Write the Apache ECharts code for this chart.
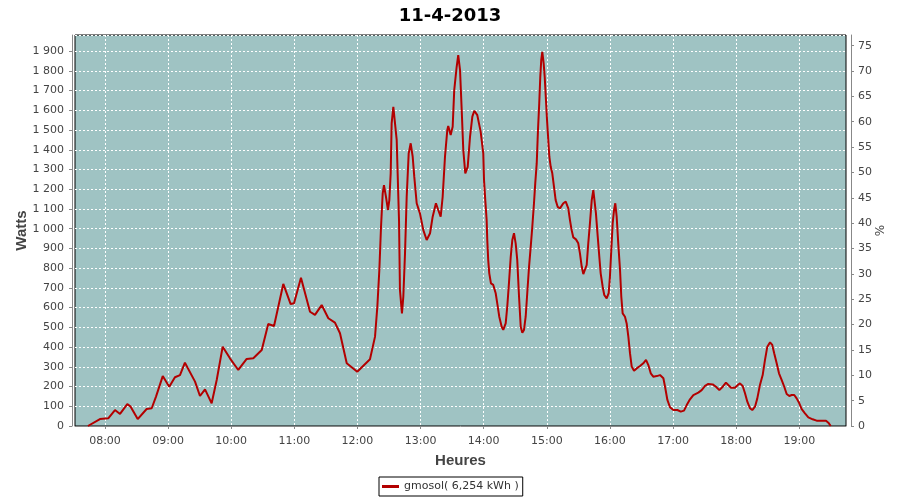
<!DOCTYPE html>
<html>
<head>
<meta charset="utf-8">
<script src="https://cdn.jsdelivr.net/npm/echarts@6/dist/echarts.min.js"></script>
<style>
html,body{margin:0;padding:0;background:#fff;}
#chart{width:900px;height:500px;}
</style>
</head>
<body>
<div id="chart"></div>
<script>
// Time of day in minutes after midnight
var minutes = [463.8,475.2,483.1,489.5,494.3,501.2,504.4,511.1,519.6,524.4,528.5,534.9,541.1,546.5,551.3,556.0,565.6,570.3,575.1,581.4,586.2,591.9,598.8,606.7,614.7,621.0,629.0,635.2,640.7,649.5,656.5,659.7,666.3,674.9,679.6,686.0,692.3,698.6,703.4,709.8,719.8,731.9,
736.7,738.9,740.8,742.4,744.0,745.2,747.1,749.0,750.3,751.6,752.5,754.1,756.0,757.3,758.2,759.5,760.4,762.3,763.6,765.2,766.8,768.7,770.6,772.5,774.0,776.3,779.4,782.6,785.8,789.0,791.5,794.6,796.8,799.1,801.0,803.2,805.4,806.3,808.6,810.5,812.0,814.3,815.8,817.5,819.1,820.6,822.5,824.8,827.0,829.2,831.1,833.9,837.1,839.6,840.3,841.5,842.8,843.4,844.3,845.3,846.9,849.1,851.4,852.9,854.8,857.1,858.6,860.9,862.4,864.0,865.7,867.2,868.8,870.4,871.9,873.6,875.2,876.7,878.3,879.9,881.4,883.1,884.7,886.2,887.8,889.0,890.4,891.6,892.8,893.8,894.7,895.7,897.0,898.0,899.2,900.2,901.4,902.4,903.7,905.2,906.8,908.4,910.3,912.5,915.7,918.0,920.4,922.0,923.6,925.2,927.7,929.9,931.5,933.2,934.7,936.3,937.9,939.4,941.0,942.7,944.2,945.5,946.7,948.4,949.9,951.2,953.1,954.6,956.9,958.8,960.0,961.3,962.6,963.9,965.1,966.4,967.9,969.6,970.8,972.1,974.3,975.9,977.5,979.1,980.7,982.9,985.4,988.6,991.7,994.3,996.5,998.8,1001.2,1004.5,1007.6,1010.8,1012.4,1014.6,1017.1,1020.3,1024.1,1027.3,1030.4,1033.0,1036.1,1039.3,1044.0,1047.2,1050.4,1053.5,1057.7,1060.8,1064.0,1067.2,1070.3,1072.5,1075.1,1078.9,1081.5,1083.6,1086.2,1088.4,1090.6,1093.1,1095.3,1097.9,1100.1,1102.6,1105.2,1107.4,1109.6,1112.2,1114.3,1116.2,1118.5,1120.7,1123.3,1125.7,1128.0,1130.5,1132.8,1135.2,1137.5,1140.0,1142.3,1145.4,1148.6,1152.7,1156.5,1161.3,1165.4,1167.6,1169.9];
// Power in watts
var watts = [0,35,39,81,61,111,98,35,86,90,149,253,199,247,258,321,225,152,186,115,233,402,343,284,340,343,385,517,507,720,618,622,752,579,563,613,546,524,470,318,275,338,
453,605,791,1010,1179,1221,1162,1095,1145,1281,1534,1618,1627,1450,1281,1044,689,571,655,875,1162,1382,1433,1365,1264,1129,1078,993,943,977,1061,1129,1095,1061,1162,1365,1500,1521,1475,1517,1703,1821,1880,1804,1602,1399,1281,1314,1466,1568,1598,1576,1492,1382,1247,1145,1044,943,841,774,723,715,673,622,554,503,487,520,605,723,858,943,977,926,841,655,503,473,487,554,673,807,909,1010,1129,1230,1331,1500,1636,1770,1855,1897,1838,1770,1652,1551,1450,1365,1314,1281,1213,1145,1111,1103,1129,1137,1103,1044,993,956,946,926,875,807,770,765,816,926,1027,1145,1196,1200,1078,960,858,774,706,664,647,673,757,892,1027,1095,1129,1061,926,791,655,571,554,520,453,368,301,280,292,304,318,335,309,267,250,253,258,242,199,132,95,81,81,73,78,106,135,157,169,182,203,213,211,199,182,199,220,208,194,194,208,216,203,166,123,90,81,98,140,208,258,335,402,424,411,368,318,267,233,199,162,152,157,157,140,115,85,64,44,34,27,27,27,17,0];
var hourTicks = [480,540,600,660,720,780,840,900,960,1020,1080,1140];
var titleText = '11-4-2013';
var seriesName = 'gmosol( 6,254 kWh )';

var data = minutes.map(function(m,i){return [m, watts[i]];});
function hhmm(v){var h=Math.floor(v/60), m=Math.round(v-h*60);return (h<10?'0':'')+h+':'+(m<10?'0':'')+m;}
function thousands(v){ if(v>=1000){var r=v%1000;return Math.floor(v/1000)+' '+(r<10?'00':r<100?'0':'')+r;} return ''+v; }

var chart = echarts.init(document.getElementById('chart'), null, {renderer:'canvas'});
var labelFont = {color:'#444', fontFamily:'DejaVu Sans', fontSize:11};
chart.setOption({
  animation:false,
  backgroundColor:'#fff',
  title:{text:titleText, left:'center', top:2, textStyle:{fontFamily:'DejaVu Sans', fontWeight:'bold', fontSize:18, color:'#000'}},
  grid:{left:75, right:54, top:35, bottom:74, outerBoundsMode:'none', show:true, backgroundColor:'#9fc3c3', borderColor:'#000', borderWidth:1},
  legend:{data:[seriesName], left:379, top:477, icon:'rect', itemWidth:17, itemHeight:3, itemGap:4,
    borderColor:'#000', borderWidth:1, padding:[4,4,4,3], textStyle:{fontFamily:'DejaVu Sans', fontSize:11, color:'#333'}},
  xAxis:{type:'value', min:451.5, max:1184.4, offset:4,
    name:'Heures', nameLocation:'middle', nameGap:23, nameMoveOverlap:false,
    nameTextStyle:{fontFamily:'Liberation Sans', fontWeight:'bold', fontSize:15, color:'#444'},
    axisLine:{show:true, lineStyle:{color:'#888'}},
    axisTick:{show:true, length:3, customValues:hourTicks, lineStyle:{color:'#888'}},
    axisLabel:Object.assign({margin:6, customValues:hourTicks, formatter:hhmm}, labelFont),
    splitLine:{show:true, lineStyle:{color:'#fff', type:[2,2], width:1}}
  },
  yAxis:[
    {type:'value', min:0, max:1982, interval:100, offset:3, position:'left',
     name:'Watts', nameLocation:'middle', nameGap:43, nameMoveOverlap:false,
     nameTextStyle:{fontFamily:'Liberation Sans', fontWeight:'bold', fontSize:15, color:'#444'},
     axisLine:{show:true, lineStyle:{color:'#888'}},
     axisTick:{show:true, length:3, lineStyle:{color:'#888'}},
     axisLabel:Object.assign({margin:8, formatter:thousands, showMaxLabel:false}, labelFont),
     splitLine:{show:true, lineStyle:{color:'#fff', type:[2,2], width:1}}
    },
    {type:'value', min:0, max:77.1, interval:5, offset:5, position:'right',
     name:'%', nameLocation:'middle', nameGap:24, nameMoveOverlap:false,
     nameTextStyle:{fontFamily:'DejaVu Sans', fontSize:12, color:'#444'},
     axisLine:{show:true, lineStyle:{color:'#888'}},
     axisTick:{show:true, length:3, lineStyle:{color:'#888'}},
     axisLabel:Object.assign({margin:7, showMaxLabel:false}, labelFont),
     splitLine:{show:false}
    }
  ],
  series:[{name:seriesName, type:'line', data:data, yAxisIndex:0, symbol:'none', smooth:false,
    lineStyle:{color:'#b30000', width:2}, itemStyle:{color:'#b30000'}}]
});
</script>
</body>
</html>
